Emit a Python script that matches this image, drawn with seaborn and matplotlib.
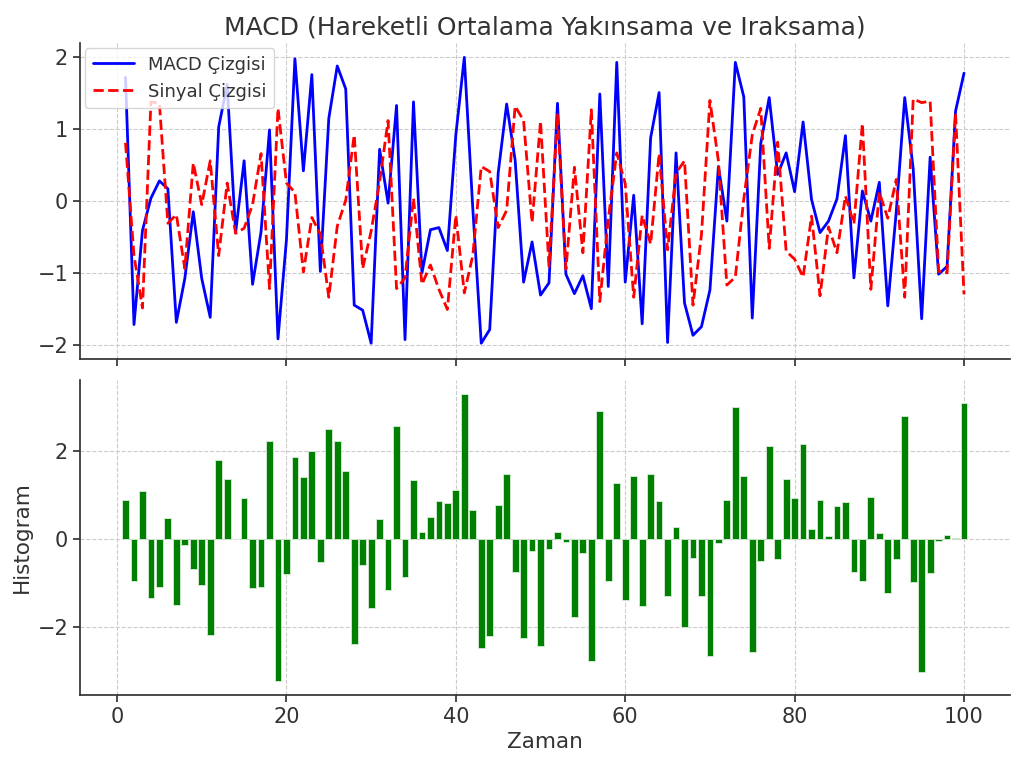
import numpy as np
import pandas as pd
import matplotlib
matplotlib.use("Agg")
import matplotlib.pyplot as plt
import seaborn as sns

zaman = list(range(1, 101))

macd = [1.72, -1.72, -0.41, 0.04, 0.28, 0.17, -1.69, -1.08, -0.15, -1.08,
        -1.62, 1.03, 1.62, -0.44, 0.56, -1.16, -0.43, 0.99, -1.92, -0.54,
        1.98, 0.42, 1.76, -0.98, 1.15, 1.88, 1.56, -1.45, -1.52, -1.98,
        0.72, -0.03, 1.33, -1.93, 1.38, -1.00, -0.40, -0.37, -0.69, 0.92,
        2.00, -0.10, -1.98, -1.79, 0.39, 1.35, 0.57, -1.13, -0.57, -1.31,
        -1.14, 1.36, -1.02, -1.29, -1.04, -1.50, 1.49, -1.19, 1.93, -1.13,
        0.08, -1.71, 0.88, 1.51, -1.97, 0.67, -1.42, -1.87, -1.75, -1.24,
        0.48, -0.28, 1.93, 1.45, -1.63, 0.80, 1.44, 0.37, 0.67, 0.13,
        1.10, 0.02, -0.44, -0.28, 0.03, 0.91, -1.07, 0.14, -0.28, 0.26,
        -1.46, -0.15, 1.44, 0.45, -1.64, 0.61, -1.02, -0.91, 1.25, 1.78]

sinyal = [0.81, -0.76, -1.49, 1.38, 1.36, -0.31, -0.19, -0.94, 0.53, -0.05,
          0.56, -0.76, 0.25, -0.45, -0.38, -0.05, 0.66, -1.22, 1.29, 0.25,
          0.12, -0.99, -0.23, -0.46, -1.34, -0.35, 0.01, 0.92, -0.94, -0.42,
          0.27, 1.12, -1.22, -1.07, 0.04, -1.16, -0.89, -1.23, -1.51, -0.20,
          -1.28, -0.76, 0.48, 0.41, -0.37, -0.13, 1.32, 1.12, -0.30, 1.11,
          -0.91, 1.20, -0.95, 0.47, -0.72, 1.27, -1.40, -0.25, 0.67, 0.24,
          -1.34, -0.20, -0.60, 0.66, -0.68, 0.39, 0.56, -1.45, -0.47, 1.40,
          0.56, -1.17, -1.06, 0.03, 0.92, 1.29, -0.66, 0.82, -0.70, -0.81,
          -1.06, -0.21, -1.32, -0.36, -0.72, 0.07, -0.32, 1.08, -1.23, 0.12,
          -0.24, 0.30, -1.34, 1.42, 1.37, 1.39, -0.98, -1.00, 1.22, -1.30]

histogram = [0.89, -0.96, 1.08, -1.34, -1.08, 0.48, -1.50, -0.14, -0.68, -1.03,
             -2.18, 1.79, 1.37, 0.01, 0.94, -1.11, -1.09, 2.21, -3.21, -0.79,
             1.86, 1.41, 1.99, -0.52, 2.49, 2.23, 1.55, -2.37, -0.58, -1.56,
             0.45, -1.15, 2.55, -0.86, 1.34, 0.16, 0.49, 0.86, 0.82, 1.12,
             3.28, 0.66, -2.46, -2.20, 0.76, 1.48, -0.75, -2.25, -0.27, -2.42,
             -0.23, 0.16, -0.07, -1.76, -0.32, -2.77, 2.89, -0.94, 1.26, -1.37,
             1.42, -1.51, 1.48, 0.85, -1.29, 0.28, -1.98, -0.42, -1.28, -2.64,
             -0.08, 0.89, 2.99, 1.42, -2.55, -0.49, 2.10, -0.45, 1.37, 0.94,
             2.16, 0.23, 0.88, 0.08, 0.75, 0.84, -0.75, -0.94, 0.95, 0.14,
             -1.22, -0.45, 2.78, -0.97, -3.01, -0.78, -0.04, 0.09, 0.03, 3.08]

df = pd.DataFrame({"Zaman": zaman, "MACD": macd, "Sinyal": sinyal, "Histogram": histogram})

sns.set_style("whitegrid")
plt.rcParams.update({
    "font.family": ["DejaVu Sans"],
    "axes.edgecolor": "#333333",
    "axes.linewidth": 1.25,
    "grid.color": "#cccccc",
    "grid.linestyle": "--",
    "grid.linewidth": 0.8,
    "xtick.color": "#333333",
    "ytick.color": "#333333",
    "xtick.labelcolor": "#333333",
    "ytick.labelcolor": "#333333",
    "xtick.bottom": True,
    "ytick.left": True,
    "xtick.major.size": 5,
    "ytick.major.size": 5,
    "xtick.major.width": 1.25,
    "ytick.major.width": 1.25,
})

fig = plt.figure(figsize=(10.24, 7.65), dpi=100)
ax1 = fig.add_axes([0.078, 0.5307, 0.908, 0.4131])
ax2 = fig.add_axes([0.078, 0.0915, 0.908, 0.4118], sharex=ax1)

sns.lineplot(data=df, x="Zaman", y="MACD", ax=ax1, color="blue", linewidth=2,
             label="MACD Çizgisi")
sns.lineplot(data=df, x="Zaman", y="Sinyal", ax=ax1, color="red", linewidth=2,
             linestyle="--", label="Sinyal Çizgisi")
ax1.set_title("MACD (Hareketli Ortalama Yakınsama ve Iraksama)", fontsize=18,
              color="#333333", pad=6)
ax1.set_xlabel("")
ax1.set_ylabel("")
ax1.set_yticks([-2, -1, 0, 1, 2])
ax1.tick_params(axis="x", labelbottom=False)
ax1.tick_params(axis="y", labelsize=15)
leg = ax1.legend(loc="upper left", fontsize=13, frameon=True, borderaxespad=0.3,
                 handlelength=2.3)
leg.get_frame().set_edgecolor("#cccccc")
for t in leg.get_texts():
    t.set_color("#333333")

sns.barplot(data=df, x="Zaman", y="Histogram", ax=ax2, native_scale=True,
            color="green", saturation=1, width=0.8, errorbar=None,
            edgecolor="#d8ecd8", linewidth=0.6)
ax2.set_xlabel("Zaman", fontsize=15.5, color="#333333")
ax2.set_ylabel("Histogram", fontsize=15.5, color="#333333")
ax2.set_yticks([-2, 0, 2])
ax2.set_xticks([0, 20, 40, 60, 80, 100])
ax2.set_xlim(-4.39, 105.39)
ax2.set_ylim(-3.53, 3.6)
ax1.set_ylim(-2.2, 2.2)
ax2.tick_params(axis="both", labelsize=15)

for ax in (ax1, ax2):
    sns.despine(ax=ax)
    ax.grid(True, linestyle="--", color="#cccccc", linewidth=0.8)
    ax.set_axisbelow(True)

fig.savefig("out.png", dpi=100)
